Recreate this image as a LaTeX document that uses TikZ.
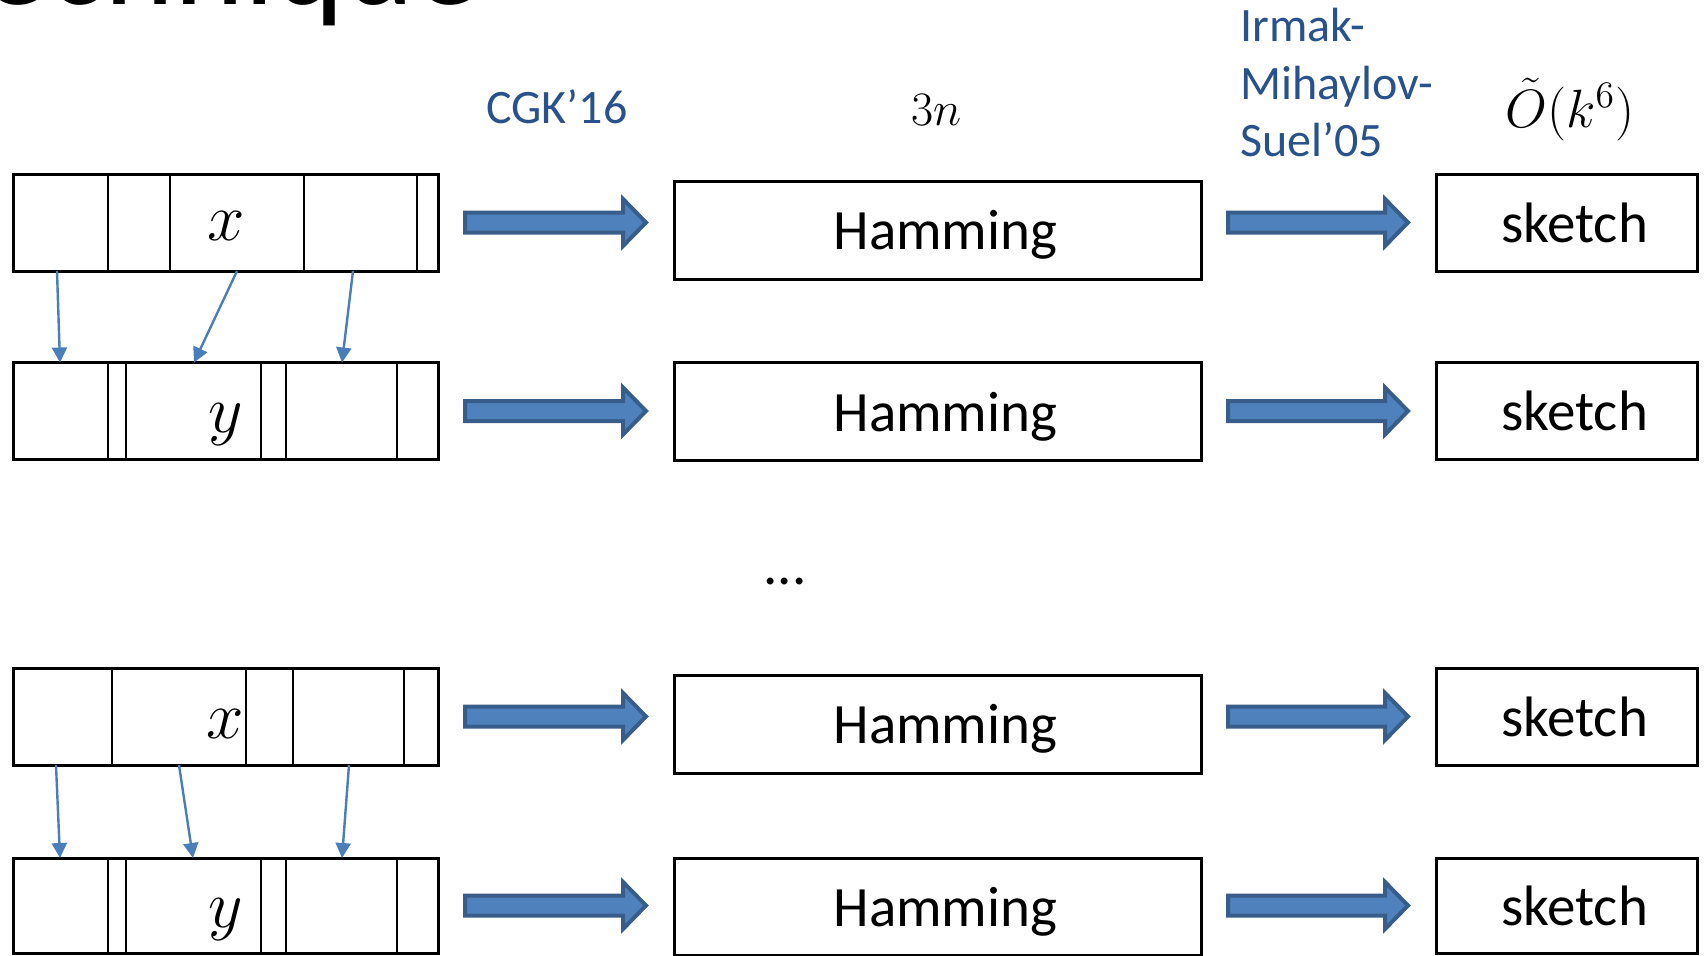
\documentclass[tikz,border=0pt]{standalone}
\usepackage{fontspec}
\setmainfont{Carlito}
\usetikzlibrary{calc,arrows.meta}

\definecolor{arrfill}{RGB}{79,129,189}
\definecolor{arrline}{RGB}{56,93,138}
\definecolor{linkblue}{RGB}{74,126,187}
\definecolor{citeblue}{RGB}{41,82,140}

% thick block arrow between a tail point and a tip point on one horizontal line
\newcommand\drawfatarrow[2]{%
  \draw[fatarr] ($(#1)+(2,-10)$) -- ($(#2)+(-26,-10)$) -- ($(#2)+(-26,-23.5)$)
    -- ($(#2)+(-3,0)$) -- ($(#2)+(-26,23.5)$) -- ($(#2)+(-26,10)$)
    -- ($(#1)+(2,10)$) -- cycle;}

\begin{document}
\begin{tikzpicture}[x=0.5pt,y=-0.5pt,
  basebox/.style={draw=black, line width=1.5pt, rectangle, inner sep=0pt,
    outer sep=0pt, anchor=north west},
  strbox/.style={basebox, minimum width=212.5pt, minimum height=48.5pt},
  hambox/.style={basebox, minimum width=263.5pt, minimum height=49pt},
  skbox/.style={basebox, minimum width=130.5pt, minimum height=48.5pt},
  divider/.style={draw=black, line width=1.4pt},
  boxtext/.style={font=\fontsize{28.5}{34}\selectfont, text depth=0pt,
    inner sep=0pt, xshift=4pt},
  mathfont/.style={font=\fontsize{20.74}{25}\selectfont, inner sep=0pt},
  mathlbl/.style={mathfont, scale=1.62, anchor=base},
  cite/.style={font=\fontsize{24}{28.75}\selectfont, text=citeblue, inner sep=0pt},
  link/.style={draw=linkblue, line width=1.2pt, -{Triangle[length=7.5pt,width=7.5pt]}},
  fatarr/.style={fill=arrfill, draw=arrline, line width=2pt, line join=miter}]

\fill[white] (0,0) rectangle (1707,955);
\useasboundingbox (0,0) rectangle (1707,955);
\clip (0,0) rectangle (1707,955);

% slide title, partly above the visible area
\node[font=\fontsize{66.5}{74}\selectfont, inner sep=0pt, anchor=base east] (title) at (481,4) {Technique};

% column headings
\node[cite, anchor=base west] (cgk) at (486,123) {CGK’16};
\node[mathfont, scale=1.16, anchor=base west] (len) at (911,125) {$3n$};
\node[cite, anchor=north west, align=left] (ims) at (1240,8)
  {Irmak-\\Mihaylov-\\Suel’05};
\node[mathfont, scale=1.3, anchor=base west] (size) at (1505,127) {$\tilde{O}(k^6)$};

% strings split into blocks
\node[strbox] (x1) at (13,174) {};
\node[strbox] (y1) at (13,362.5) {};
\node[strbox] (x2) at (13,668) {};
\node[strbox, minimum height=47.5pt] (y2) at (13,858) {};

\foreach \d in {95,157,291,404}
  \draw[divider] ($(x1.north west)+(\d,0)$) -- ($(x1.south west)+(\d,0)$);
\foreach \d in {95,113,248,273,384} {
  \draw[divider] ($(y1.north west)+(\d,0)$) -- ($(y1.south west)+(\d,0)$);
  \draw[divider] ($(y2.north west)+(\d,0)$) -- ($(y2.south west)+(\d,0)$);
}
\foreach \d in {99,233,280,391}
  \draw[divider] ($(x2.north west)+(\d,0)$) -- ($(x2.south west)+(\d,0)$);

\node[mathlbl] (xl1) at (226,240) {$x$};
\node[mathlbl] (yl1) at (226,432) {$y$};
\node[mathlbl] (xl2) at (225,738) {$x$};
\node[mathlbl] (yl2) at (226,927) {$y$};

% block correspondences
\draw[link] ($(x1.south west)+(44,0)$) -- ($(y1.north west)+(47,0)$);
\draw[link] ($(x1.south west)+(224,0)$) -- ($(y1.north west)+(181,0)$);
\draw[link] ($(x1.south west)+(340,0)$) -- ($(y1.north west)+(329,0)$);
\draw[link] ($(x2.south west)+(43,0)$) -- ($(y2.north west)+(47,0)$);
\draw[link] ($(x2.south west)+(166,0)$) -- ($(y2.north west)+(180,0)$);
\draw[link] ($(x2.south west)+(336,0)$) -- ($(y2.north west)+(329,0)$);

% Hamming instances
\node[hambox, label={[boxtext]center:Hamming}] (h1) at (674,181) {};
\node[hambox, label={[boxtext]center:Hamming}] (h2) at (674,362.5) {};
\node[hambox, label={[boxtext]center:Hamming}] (h3) at (674,675) {};
\node[hambox, minimum height=48.5pt, label={[boxtext]center:Hamming}] (h4) at (674,858) {};

\node[font=\fontsize{28.5}{34}\selectfont, inner sep=0pt, anchor=base] (dots) at (785,584) {...};

% sketches
\node[skbox, label={[boxtext]center:sketch}] (s1) at (1436,174) {};
\node[skbox, label={[boxtext]center:sketch}] (s2) at (1436,362.5) {};
\node[skbox, label={[boxtext]center:sketch}] (s3) at (1436,668) {};
\node[skbox, minimum height=47.5pt, label={[boxtext]center:sketch}] (s4) at (1436,858) {};

% embedding arrows
\foreach \r in {1,2} {
  \coordinate (la\r) at ($(x\r.east)+(25,0)$);
  \coordinate (lb\r) at ($(h1.west |- x\r.east)+(-25,0)$);
}
\coordinate (la3) at ($(y1.east)+(25,0)$);
\coordinate (lb3) at ($(h1.west |- y1.east)+(-25,0)$);
\coordinate (la4) at ($(y2.east)+(25,0)$);
\coordinate (lb4) at ($(h1.west |- y2.east)+(-25,0)$);
\drawfatarrow{la1}{lb1}
\drawfatarrow{la3}{lb3}
\drawfatarrow{la2}{lb2}
\drawfatarrow{la4}{lb4}

% sketching arrows
\foreach \r in {1,2,3,4} {
  \coordinate (ra\r) at ($(h1.east |- s\r.west)+(25,0)$);
  \coordinate (rb\r) at ($(s\r.west)+(-25,0)$);
  \drawfatarrow{ra\r}{rb\r}
}
\end{tikzpicture}
\end{document}
